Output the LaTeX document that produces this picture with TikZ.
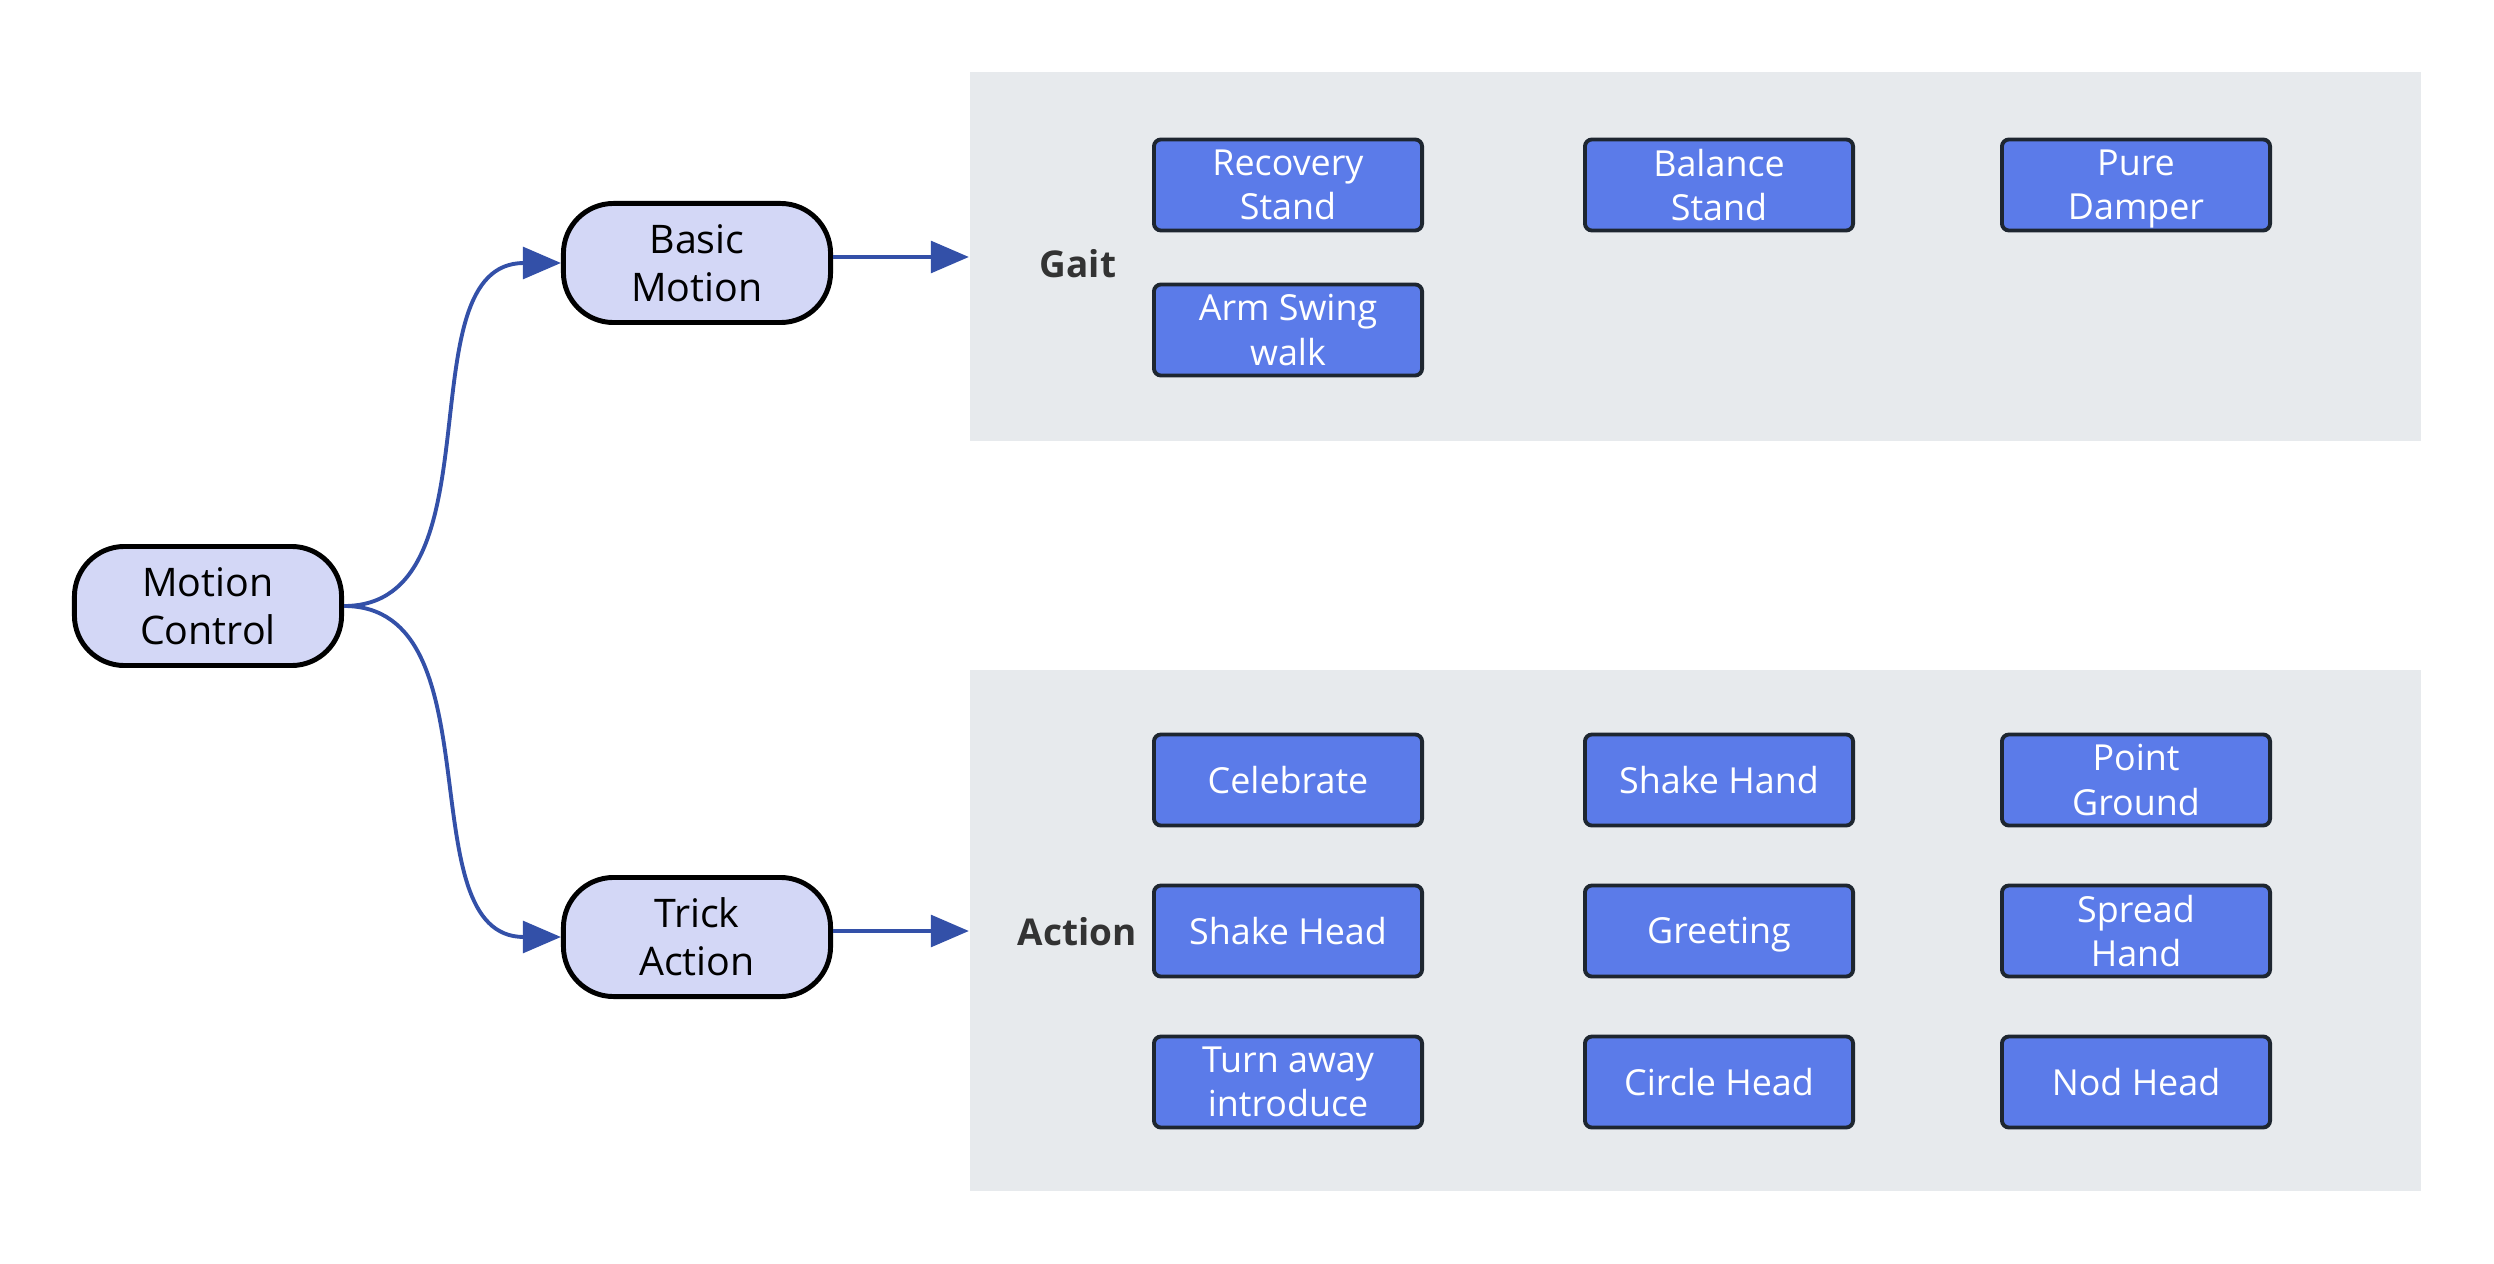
\documentclass[tikz,border=0pt]{standalone}
\usepackage{fontspec}
\setmainfont{Open Sans}
\usetikzlibrary{arrows.meta,positioning}
\definecolor{linkblue}{HTML}{3350A8}
\definecolor{topfill}{HTML}{D3D7F6}
\definecolor{itemfill}{HTML}{5B7BE9}
\definecolor{itemline}{HTML}{1E2630}
\definecolor{panelfill}{HTML}{E7EAED}
\definecolor{labeltext}{HTML}{333333}
\begin{document}
\begin{tikzpicture}[x=0.01cm,y=-0.01cm,
  topnode/.style={draw=black,line width=1.4pt,fill=topfill,rounded corners=0.5cm,minimum width=2.67cm,minimum height=1.19cm,align=center,inner sep=0pt,font=\fontsize{11.2}{13.7}\selectfont},
  item/.style={draw=itemline,line width=1.1pt,fill=itemfill,rounded corners=2pt,minimum width=2.68cm,minimum height=0.91cm,align=center,inner sep=0pt,text=white,font=\fontsize{10.2}{12.6}\selectfont},
  panel/.style={fill=panelfill,inner sep=0pt},
  grouplabel/.style={text=labeltext,font=\fontsize{10.5}{12}\selectfont\bfseries},
  link/.style={draw=linkblue,line width=1.1pt,-{Triangle[length=10.8pt,width=9pt]}}]

  \useasboundingbox (0,0) rectangle (2494,1264);

  \node[panel,minimum width=14.51cm,minimum height=3.69cm] (gaitbox) at (1695.5,256.5) {};
  \node[panel,minimum width=14.51cm,minimum height=5.21cm] (actionbox) at (1695.5,930.5) {};

  \node[topnode] (mc) at (208,606) {Motion\\Control};
  \node[topnode] (bm) at (697,263) {Basic\\Motion};
  \node[topnode] (ta) at (697,937) {Trick\\Action};

  \node[grouplabel] (gait) at (1078,264) {Gait};
  \node[grouplabel] (action) at (1077,932) {Action};

  % descenders smashed so the words sit like the others
  \foreach \n/\x/\y/\t in {rstand/1288/185/{Recovery\\Stand}, bstand/1719/185/{Balance\\Stand},
    pdamper/2136/185/{Pure\\Dam\smash{p}er}, aswing/1288/330/{Arm Swing\\walk}}
    \node[item] (\n) at (\x,\y) {\t};

  \foreach \n/\x/\y/\t in {celebrate/1288/780/Celebrate, shand/1719/780/Shake Hand,
    pground/2136/780/{Point\\Ground}, shead/1288/931/Shake Head, greeting/1719/931/{Greetin\smash{g}},
    sphand/2136/931/{Spread\\Hand}, turnaway/1288/1082/{Turn away\\introduce},
    chead/1719/1082/Circle Head, nhead/2136/1082/Nod Head}
    \node[item] (\n) at (\x,\y) {\t};

  \draw[link] (mc.east) to[out=0,in=180] (bm.west);
  \draw[link] (mc.east) to[out=0,in=180] (ta.west);
  \draw[link] ([yshift=0.06cm]bm.east) -- ([yshift=0.06cm]bm.east -| gaitbox.west);
  \draw[link] ([yshift=0.06cm]ta.east) -- ([yshift=0.06cm]ta.east -| actionbox.west);
\end{tikzpicture}
\end{document}
